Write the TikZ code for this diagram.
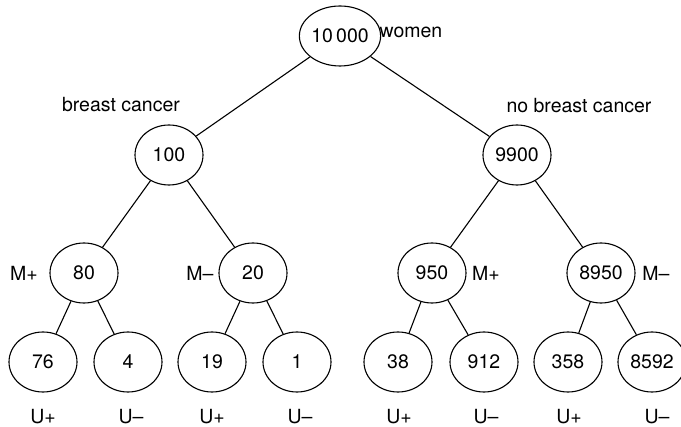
\documentclass[tikz,border=0pt]{standalone}
\usepackage{fontspec}
\setmainfont{TeX Gyre Heros}
\usetikzlibrary{shapes.geometric}

\tikzset{
  count/.style={draw, ellipse, minimum width=68pt, minimum height=60pt, inner sep=0pt},
  tag/.style={inner sep=0pt}
}

\begin{document}
\begin{tikzpicture}[x=1pt, y=-1pt, line width=1.1pt, font=\fontsize{19.5}{23}\selectfont]
\useasboundingbox (0,0) rectangle (681,427);
% Root
\node[count] (root) at (340,36) {10\thinspace 000};
\node[tag] (women) at (411,32) {women};
% First split
\node[count] (bc) at (169,155) {100};
\node[count] (nbc) at (517,155) {9900};
\node[tag] (bclabel) at (121,105) {breast cancer};
\node[tag] (nbclabel) at (579,106) {no breast cancer};
\draw (root) -- (bc);
\draw (root) -- (nbc);
% Second split
\node[count] (bcmp) at (84,273) {80};
\node[count] (bcmm) at (253,273) {20};
\node[count] (nbcmp) at (432,273) {950};
\node[count] (nbcmm) at (601,273) {8950};
\node[tag] (mlabel1) at (24,273) {M+};
\node[tag] (mlabel2) at (200,273) {M–};
\node[tag] (mlabel3) at (486,273) {M+};
\node[tag] (mlabel4) at (656,273) {M–};
\draw (bc) -- (bcmp);
\draw (bc) -- (bcmm);
\draw (nbc) -- (nbcmp);
\draw (nbc) -- (nbcmm);
% Leaves
\foreach \name/\x/\num/\parent/\ux/\utext in {
    leafa/43/76/bcmp/43/U+, leafb/128/4/bcmp/131/U–,
    leafc/212/19/bcmm/212/U+, leafd/297/1/bcmm/300/U–,
    leafe/398/38/nbcmp/399/U+, leaff/484/912/nbcmp/486/U–,
    leafg/568/358/nbcmm/569/U+, leafh/652/8592/nbcmm/657/U–} {
  \node[count] (\name) at (\x,362) {\num};
  \node[tag] (\name-u) at (\ux,417) {\utext};
  \draw (\parent) -- (\name);
}
\end{tikzpicture}
\end{document}
